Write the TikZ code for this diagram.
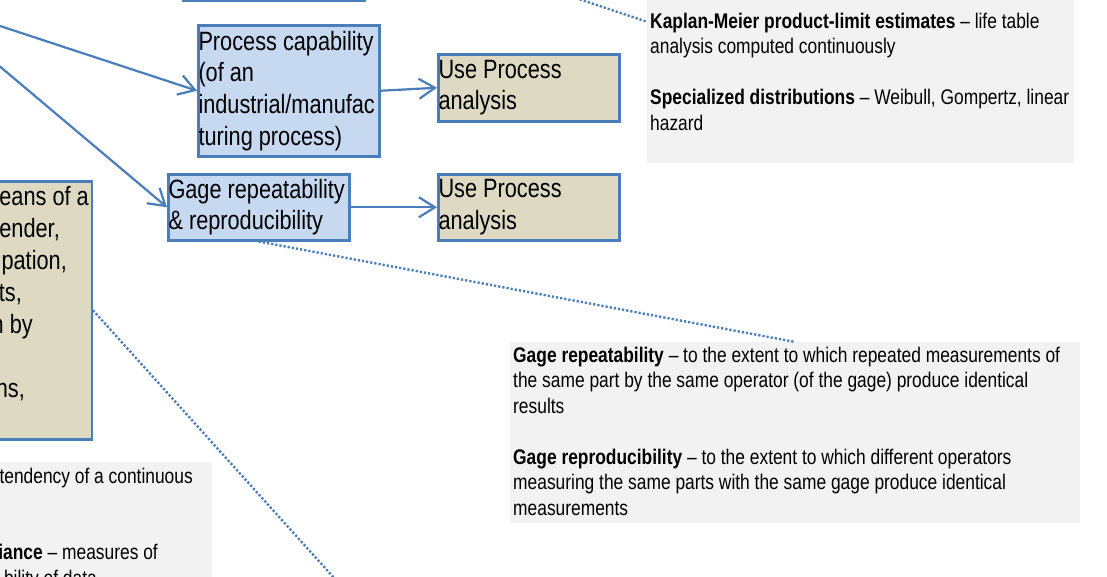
\documentclass[tikz,border=0pt]{standalone}
\usepackage{fontspec}
\setmainfont{Liberation Sans}[FakeStretch=0.82, WordSpace=0.82]
\newfontfamily\notefam{Liberation Sans}[FakeStretch=0.82, Ligatures=TeX]
\usetikzlibrary{arrows.meta}

\definecolor{linkblue}{RGB}{74,126,187}
\definecolor{boxblue}{RGB}{198,217,241}
\definecolor{boxtan}{RGB}{221,217,195}
\definecolor{notegrey}{RGB}{242,242,242}

\newcommand\bigtxt{\fontsize{26.5}{31.7}\selectfont}
\newcommand\notetxt{\notefam\fontsize{21.2}{25.5}\selectfont}
% left-aligned text block filling a process box
\newcommand\boxlines[1]{\parbox{180.5pt}{\raggedright\bigtxt #1}}

\tikzset{
  stepbox/.style={draw=linkblue, line width=2.5pt, fill=boxblue,
    inner xsep=0.25pt, inner ysep=0.6pt, minimum width=181pt},
  usebox/.style={stepbox, fill=boxtan},
  notebox/.style={fill=notegrey, draw=none, inner sep=0pt},
  notetext/.style={inner sep=0pt, anchor=base west},
  cuttext/.style={inner sep=0pt, anchor=base east},
  flow/.style={draw=linkblue, line width=2.2pt,
    -{Straight Barb[length=16pt, width=20pt]}},
  callout/.style={draw=linkblue, line width=2.4pt, dash pattern=on 2.2pt off 2pt}
}

\begin{document}
\begin{tikzpicture}[x=1pt, y=-1pt]
\path[use as bounding box] (0,0) rectangle (1107,576);
\fill[white] (0,0) rectangle (1107,576);
\clip (0,0) rectangle (1107,576);

% off-page origins of the connectors
\coordinate (src) at (-79,0);
\coordinate (kapsrc) at (520,-20.5);
\coordinate (farend) at (380,629);

% grey explanatory notes
\node[notebox, minimum width=427pt, minimum height=282pt, anchor=south west] (kap) at (647,163) {};
\node[notetext] (kaptext) at (650,28) {\parbox[t]{420pt}{\notetxt
  \textbf{Kaplan-Meier product-limit estimates} – life table\\
  analysis computed continuously\\[25.5pt]
  \textbf{Specialized distributions} – Weibull, Gompertz, linear\\
  hazard}};

\node[notebox, minimum width=570pt, minimum height=181pt, anchor=north west] (gnote) at (510,342) {};
\node[notetext] (gnotetext) at (513,362) {\parbox[t]{565pt}{\notetxt
  \textbf{Gage repeatability} – to the extent to which repeated measurements of\\
  the same part by the same operator (of the gage) produce identical\\
  results\\[25.5pt]
  \textbf{Gage reproducibility} – to the extent to which different operators\\
  measuring the same parts with the same gage produce identical\\
  measurements}};

\node[notebox, minimum width=400pt, minimum height=200pt, anchor=north east] (mnote) at (212,462) {};
\node[cuttext, font=\notetxt] (m1) at (193,483) {tendency of a continuous};
\node[cuttext, font=\notetxt] (m2) at (158,559) {\textbf{iance} – measures of};
\node[cuttext, font=\notetxt] (m3) at (97,585) {bility of data};

% tan description box on the left
\node[usebox, minimum width=300pt, minimum height=258pt, anchor=north east] (desc) at (93,180) {};
\node[cuttext, font=\bigtxt] (t1) at (89,205) {eans of a};
\node[cuttext, font=\bigtxt] (t2) at (60,237) {ender,};
\node[cuttext, font=\bigtxt] (t3) at (67,269) {pation,};
\node[cuttext, font=\bigtxt] (t4) at (22,301) {ts,};
\node[cuttext, font=\bigtxt] (t5) at (33,333) {n by};
\node[cuttext, font=\bigtxt] (t6) at (25,397) {hs,};

% process boxes
\node[stepbox, minimum height=60pt, anchor=south west] (topbox) at (182,2) {};
\node[stepbox, minimum height=131pt, anchor=north west] (pc) at (197,24)
  {\boxlines{Process capability\\(of an\\industrial/manufac\\turing process)}};
\node[stepbox, minimum height=66pt, anchor=north west] (gage) at (167,173)
  {\boxlines{Gage repeatability\\\& reproducibility}};
\node[usebox, minimum height=67pt, anchor=north west] (use1) at (437,53)
  {\boxlines{Use Process\\analysis}};
\node[usebox, minimum height=66pt, anchor=north west] (use2) at (437,173)
  {\boxlines{Use Process\\analysis}};

% connectors
\draw[flow] (src) -- (pc.west);
\draw[flow] (src) -- (gage.west);
\draw[flow] (pc.east) -- (use1.west);
\draw[flow] (gage.east) -- (use2.west);

\draw[callout] (kapsrc) -- (kap.west);
\draw[callout] (gage.south) -- (gnote.north);
\draw[callout] (desc.east) -- (farend);
\end{tikzpicture}
\end{document}
